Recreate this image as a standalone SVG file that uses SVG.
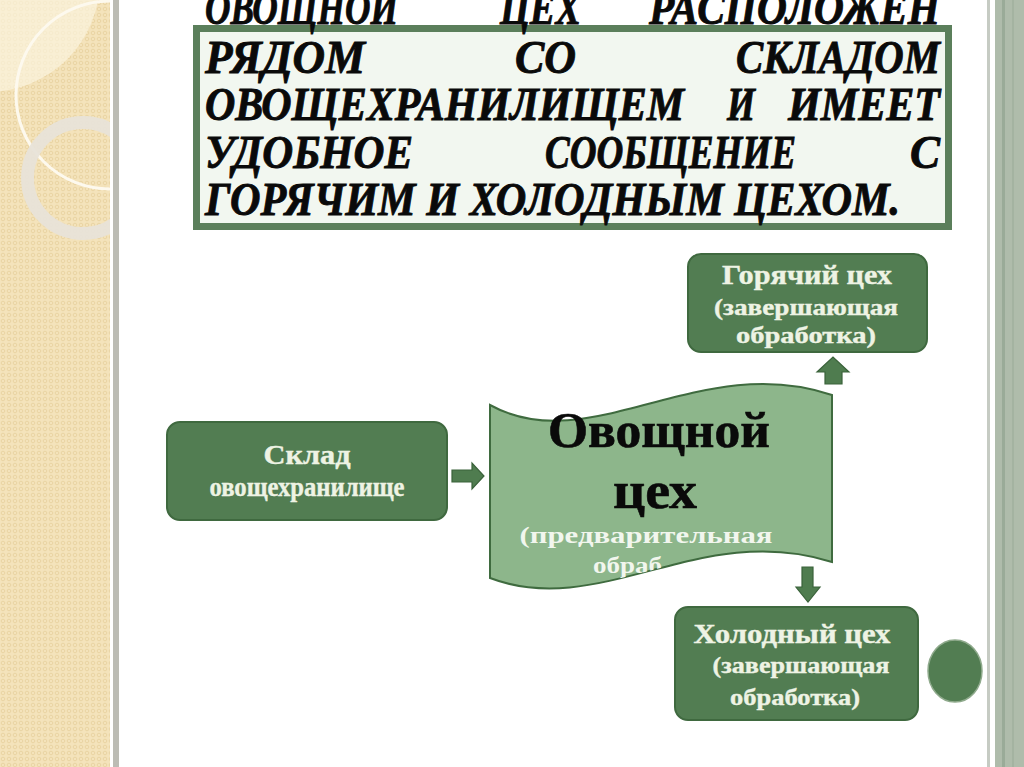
<svg xmlns="http://www.w3.org/2000/svg" width="1024" height="767" viewBox="0 0 1024 767">
<defs>
<pattern id="dots" width="6" height="6" patternUnits="userSpaceOnUse">
<rect width="6" height="6" fill="#f4e3bb"/>
<circle cx="3" cy="3" r="1.8" fill="none" stroke="#e6cf9c" stroke-width="0.8"/>
</pattern>
<clipPath id="leftclip"><rect x="0" y="0" width="110" height="767"/></clipPath>
<clipPath id="waveclip"><path d="M490,405 C590,460 700,350 832,395 L832,562 C700,520 600,620 490,578 Z"/></clipPath>
<style>
.box{fill:#527d52;stroke:#3f693f;stroke-width:2}
.bt{font-family:"Liberation Serif","DejaVu Serif",serif;font-weight:bold;fill:#eef3e4;text-anchor:middle;stroke:#eef3e4;stroke-width:0.4}
.title{font-family:"Liberation Serif","DejaVu Serif",serif;font-weight:bold;font-style:italic;font-size:47px;fill:#0a0a0a;stroke:#0a0a0a;stroke-width:0.9}
.arr{fill:#4f7c4f;stroke:#3a623a;stroke-width:1.2}
</style>
</defs>
<!-- background -->
<rect width="1024" height="767" fill="#ffffff"/>
<rect x="0" y="0" width="110" height="767" fill="url(#dots)"/>
<g clip-path="url(#leftclip)">
<circle cx="-12" cy="-20" r="112" fill="#fbf3de" opacity="0.7"/>
<circle cx="110" cy="95" r="94" fill="none" stroke="#fdf9ee" stroke-width="3"/>
<circle cx="83" cy="178" r="55.5" fill="none" stroke="#e8e3d8" stroke-width="13" opacity="0.95"/>
</g>
<rect x="113" y="0" width="6" height="767" fill="#bcbcb4"/>
<rect x="987" y="0" width="3" height="767" fill="#c6cbc3"/>
<rect x="995" y="0" width="29" height="767" fill="#afbcab"/>
<rect x="1002" y="0" width="3" height="767" fill="#9aab98"/>
<rect x="1012" y="0" width="2" height="767" fill="#a4b3a1"/>

<!-- title -->
<g id="title">
<rect x="196.5" y="28.5" width="752" height="198" fill="#f2f7f0" stroke="#5b7f5b" stroke-width="7"/>
<text class="title" y="24"><tspan x="205" textLength="193" lengthAdjust="spacingAndGlyphs">ОВОЩНОЙ</tspan><tspan x="500" textLength="81" lengthAdjust="spacingAndGlyphs">ЦЕХ</tspan><tspan x="649" textLength="291" lengthAdjust="spacingAndGlyphs">РАСПОЛОЖЕН</tspan></text>
<text class="title" y="73"><tspan x="205" textLength="160" lengthAdjust="spacingAndGlyphs">РЯДОМ</tspan><tspan x="515" textLength="61" lengthAdjust="spacingAndGlyphs">СО</tspan><tspan x="736" textLength="204" lengthAdjust="spacingAndGlyphs">СКЛАДОМ</tspan></text>
<text class="title" y="120"><tspan x="205" textLength="479" lengthAdjust="spacingAndGlyphs">ОВОЩЕХРАНИЛИЩЕМ</tspan><tspan x="727" textLength="28" lengthAdjust="spacingAndGlyphs">И</tspan><tspan x="788" textLength="152" lengthAdjust="spacingAndGlyphs">ИМЕЕТ</tspan></text>
<text class="title" y="168"><tspan x="205" textLength="208" lengthAdjust="spacingAndGlyphs">УДОБНОЕ</tspan><tspan x="545" textLength="251" lengthAdjust="spacingAndGlyphs">СООБЩЕНИЕ</tspan><tspan x="910" textLength="30" lengthAdjust="spacingAndGlyphs">С</tspan></text>
<text class="title" y="215" x="205" textLength="695" lengthAdjust="spacingAndGlyphs">ГОРЯЧИМ И ХОЛОДНЫМ ЦЕХОМ.</text>
</g>

<!-- nodes -->
<g id="hot">
<rect class="box" x="688" y="254" width="239" height="98" rx="13"/>
<text class="bt" x="807" y="284" font-size="28" textLength="170" lengthAdjust="spacingAndGlyphs">Горячий цех</text>
<text class="bt" x="806" y="315" font-size="24" textLength="184" lengthAdjust="spacingAndGlyphs">(завершающая</text>
<text class="bt" x="806" y="343" font-size="24" textLength="140" lengthAdjust="spacingAndGlyphs">обработка)</text>
</g>
<g id="store">
<rect class="box" x="167" y="422" width="280" height="98" rx="13"/>
<text class="bt" x="307" y="464" font-size="28" textLength="87" lengthAdjust="spacingAndGlyphs">Склад</text>
<text class="bt" x="307" y="496" font-size="28" textLength="195" lengthAdjust="spacingAndGlyphs">овощехранилище</text>
</g>
<g id="veg">
<path d="M490,405 C590,460 700,350 832,395 L832,562 C700,520 600,620 490,578 Z" fill="#8db68b" stroke="#3f6b3f" stroke-width="2"/>
<text x="659" y="447" font-family="'Liberation Serif','DejaVu Serif',serif" font-weight="bold" font-size="50" fill="#0a0a0a" stroke="#0a0a0a" stroke-width="0.6" text-anchor="middle" textLength="222" lengthAdjust="spacingAndGlyphs">Овощной</text>
<text x="655" y="508" font-family="'Liberation Serif','DejaVu Serif',serif" font-weight="bold" font-size="52" fill="#0a0a0a" stroke="#0a0a0a" stroke-width="0.6" text-anchor="middle" textLength="84" lengthAdjust="spacingAndGlyphs">цех</text>
<text x="646" y="543" font-family="'Liberation Serif','DejaVu Serif',serif" font-weight="bold" font-size="23" fill="#f2f6ee" text-anchor="middle" textLength="253" lengthAdjust="spacingAndGlyphs">(предварительная</text>
<g clip-path="url(#waveclip)">
<text x="593" y="573" font-family="'Liberation Serif','DejaVu Serif',serif" font-weight="bold" font-size="23" fill="#f2f6ee" textLength="69" lengthAdjust="spacingAndGlyphs">обраб</text>
</g>
</g>
<g id="cold">
<rect class="box" x="675" y="607" width="243" height="113" rx="13"/>
<text class="bt" x="792" y="643" font-size="28" textLength="197" lengthAdjust="spacingAndGlyphs">Холодный цех</text>
<text class="bt" x="801" y="673" font-size="24" textLength="177" lengthAdjust="spacingAndGlyphs">(завершающая</text>
<text class="bt" x="795" y="705" font-size="24" textLength="130" lengthAdjust="spacingAndGlyphs">обработка)</text>
</g>
<g id="dot">
<ellipse cx="955" cy="671" rx="27" ry="31" fill="#527d52" stroke="#8faa8c" stroke-width="1.5"/>
</g>

<!-- connectors -->
<g id="connectors">
<path class="arr" d="M452,470 L472,470 L472,463 L484,476 L472,489 L472,482 L452,482 Z"/>
<path class="arr" d="M825,384 L825,372 L817,372 L833,357 L849,372 L842,372 L842,384 Z"/>
<path class="arr" d="M802,567 L813,567 L813,587 L820,587 L808,602 L796,587 L802,587 Z"/>
</g>
</svg>
